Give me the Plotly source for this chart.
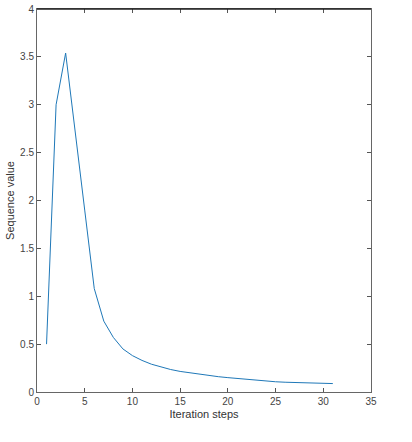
import plotly.graph_objects as go

steps = list(range(1, 32))
values = [0.5, 3.0, 3.54, 2.75, 1.9, 1.08, 0.74, 0.57, 0.45, 0.38, 0.33, 0.29,
          0.26, 0.235, 0.215, 0.2, 0.185, 0.172, 0.16, 0.15, 0.14, 0.132,
          0.125, 0.115, 0.107, 0.102, 0.098, 0.095, 0.092, 0.09, 0.088]

x_ticks = [0, 5, 10, 15, 20, 25, 30, 35]
y_ticks = [0, 0.5, 1, 1.5, 2, 2.5, 3, 3.5, 4]
y_tick_text = ["0", "0.5", "1", "1.5", "2", "2.5", "3", "3.5", "4"]

fig = go.Figure()
fig.add_trace(go.Scatter(x=steps, y=values, mode="lines",
                         line=dict(color="#1f78b8", width=1)))

axis_font = dict(family="Liberation Sans, Arial, sans-serif", size=10, color="#444")
fig.update_layout(
    width=412, height=442,
    margin=dict(l=37, r=41, t=9, b=50),
    paper_bgcolor="white", plot_bgcolor="white",
    showlegend=False,
    font=axis_font,
    xaxis=dict(range=[0, 35], tickvals=x_ticks, ticks="inside", ticklen=4,
               tickcolor="#555", showline=True, linecolor="#666", linewidth=1,
               mirror="allticks", showgrid=False, zeroline=False,
               title=dict(text="Iteration steps", font=dict(size=11, color="#333"), standoff=4),
               tickfont=axis_font, automargin=False),
    yaxis=dict(range=[0, 4], tickvals=y_ticks, ticktext=y_tick_text, ticks="inside",
               ticklen=4, tickcolor="#555", showline=True, linecolor="#666", linewidth=1,
               mirror="allticks", showgrid=False, zeroline=False,
               title=dict(text="Sequence value", font=dict(size=11, color="#333"), standoff=3),
               tickfont=axis_font, automargin=False),
)
fig.add_shape(type="line", xref="paper", yref="paper", x0=0, x1=1, y0=1, y1=1,
              line=dict(color="#222", width=1.3))
fig.write_html("out.html", config={"displayModeBar": False},
               post_script="document.body.style.margin='0px';document.body.style.overflow='hidden';")
